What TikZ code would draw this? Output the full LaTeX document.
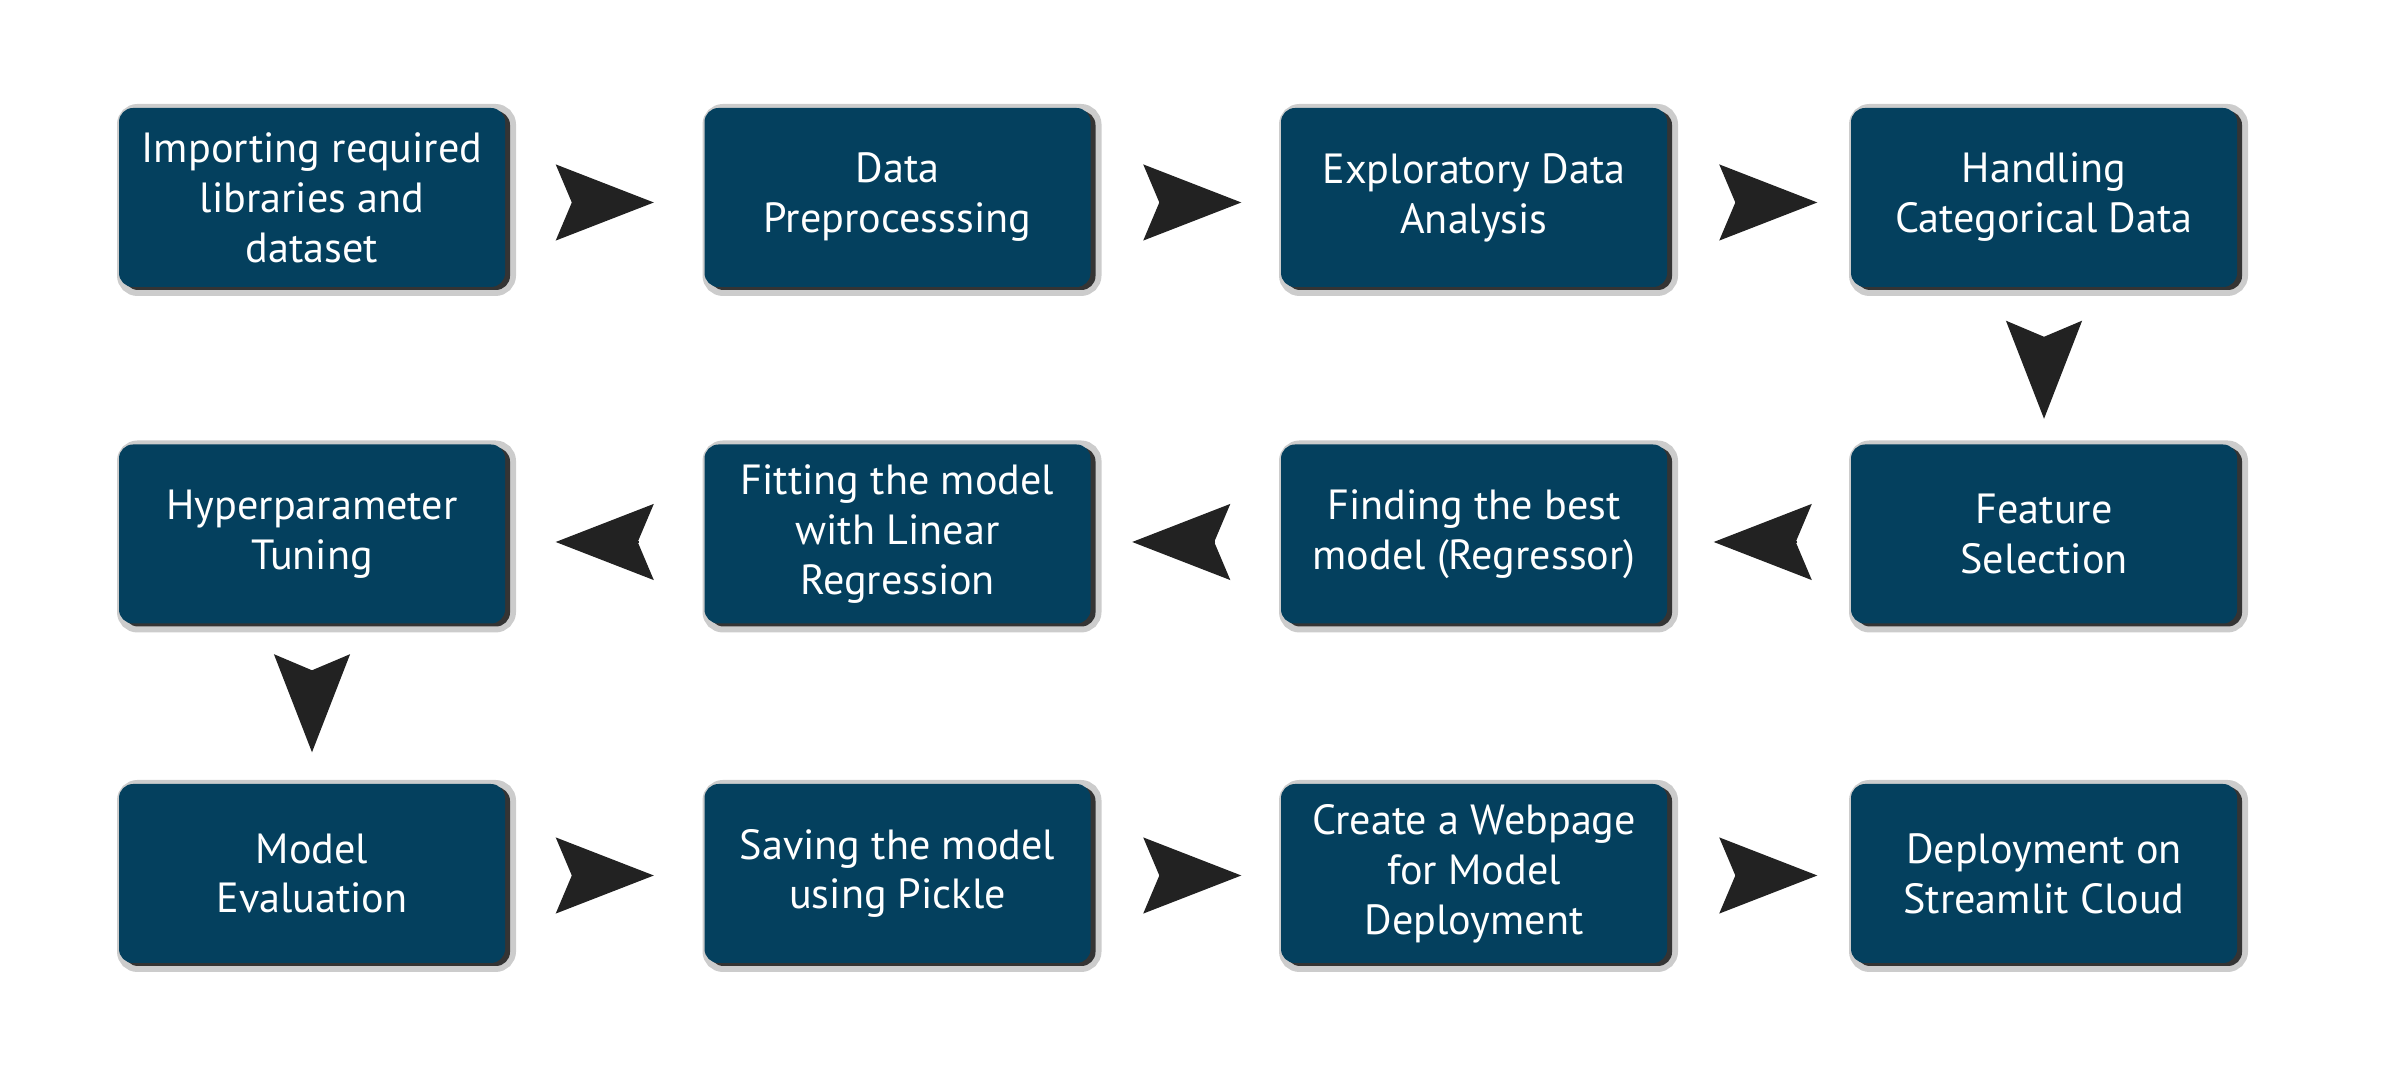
\documentclass[tikz,border=0pt]{standalone}
\usepackage{fontspec}
\setmainfont{PT Sans}
\usepackage{xcolor}
\usetikzlibrary{arrows.meta,shadows}
\definecolor{boxblue}{RGB}{4,64,94}
\definecolor{halogray}{RGB}{204,204,204}
\definecolor{edgegray}{RGB}{52,52,52}
\definecolor{arrowblack}{RGB}{34,34,34}
\tikzset{
	stepbox/.style={
			rectangle, rounded corners=4pt, fill=boxblue, text=white,
			minimum width=3.86cm, minimum height=1.79cm, inner sep=0pt, align=center,
			font=\fontsize{12}{14.2}\selectfont,
			general shadow={fill=halogray, draw=halogray, line width=0.13cm, shadow xshift=0.045cm, shadow yshift=-0.025cm},
			general shadow={fill=edgegray, shadow xshift=0.05cm, shadow yshift=-0.03cm}
		},
	flow/.style={
			draw=arrowblack, line width=0.4pt,
			-{Stealth[length=0.98cm, width=0.76cm, inset=0.16cm]}
		}
}

\begin{document}
\begin{tikzpicture}
		\useasboundingbox (0,0) rectangle (24,10.8);
		\node[stepbox] (imp) at (3.12,8.825) {Importing required\\libraries and\\dataset};
		\node[stepbox] (pre) at (8.975,8.825) {Data\\Preprocesssing};
		\node[stepbox] (eda) at (14.74,8.825) {Exploratory Data\\Analysis};
		\node[stepbox] (cat) at (20.44,8.825) {Handling\\Categorical Data};
		\node[stepbox] (hyp) at (3.12,5.46) {Hyperparameter\\Tuning};
		\node[stepbox] (fit) at (8.975,5.46) {Fitting the model\\with Linear\\Regression};
		\node[stepbox] (best) at (14.74,5.46) {Finding the best\\model (Regressor)};
		\node[stepbox] (feat) at (20.44,5.46) {Feature\\Selection};
		\node[stepbox] (eval) at (3.12,2.065) {Model\\Evaluation};
		\node[stepbox] (save) at (8.975,2.065) {Saving the model\\using Pickle};
		\node[stepbox] (web) at (14.74,2.065) {Create a Webpage\\for Model\\Deployment};
		\node[stepbox] (deploy) at (20.44,2.065) {Deployment on\\Streamlit Cloud};
		\draw[flow, shorten <=0.68cm, shorten >=0.5cm] ([yshift=-0.05cm]imp.east) -- ([yshift=-0.05cm]pre.west);
		\draw[flow, shorten <=0.7cm, shorten >=0.39cm] ([yshift=-0.05cm]pre.east) -- ([yshift=-0.05cm]eda.west);
		\draw[flow, shorten <=0.69cm, shorten >=0.33cm] ([yshift=-0.05cm]eda.east) -- ([yshift=-0.05cm]cat.west);
		\draw[flow, shorten <=0.51cm, shorten >=0.25cm] (cat) -- (feat);
		\draw[flow, shorten <=0.53cm, shorten >=0.46cm] ([yshift=-0.08cm]feat.west) -- ([yshift=-0.08cm]best.east);
		\draw[flow, shorten <=0.65cm, shorten >=0.41cm] ([yshift=-0.08cm]best.west) -- ([yshift=-0.08cm]fit.east);
		\draw[flow, shorten <=0.65cm, shorten >=0.5cm] ([yshift=-0.08cm]fit.west) -- ([yshift=-0.08cm]hyp.east);
		\draw[flow, shorten <=0.49cm, shorten >=0.31cm] (hyp) -- (eval);
		\draw[flow, shorten <=0.68cm, shorten >=0.5cm] ([yshift=-0.02cm]eval.east) -- ([yshift=-0.02cm]save.west);
		\draw[flow, shorten <=0.7cm, shorten >=0.39cm] ([yshift=-0.02cm]save.east) -- ([yshift=-0.02cm]web.west);
		\draw[flow, shorten <=0.69cm, shorten >=0.33cm] ([yshift=-0.02cm]web.east) -- ([yshift=-0.02cm]deploy.west);
	\end{tikzpicture}
\end{document}
